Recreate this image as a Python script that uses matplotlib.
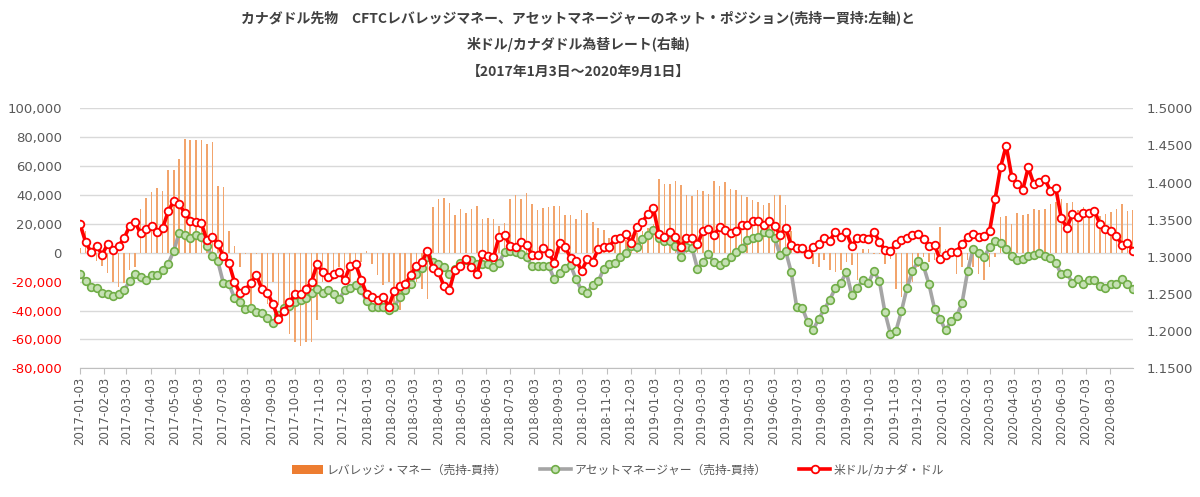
import matplotlib
matplotlib.use('Agg')
import matplotlib.pyplot as plt
import matplotlib.dates as mdates
from matplotlib.lines import Line2D
from matplotlib.patches import Patch
from matplotlib.ticker import FuncFormatter, MultipleLocator
import pandas as pd

plt.rcParams['font.family'] = ['Noto Sans CJK JP', 'DejaVu Sans']

# ---------------- data (weekly, Tuesdays from 2017-01-03) ----------------
start_date = '2017-01-03'

leveraged = [
    3000, 15000, -2000, -6000, -9000, -14000, -20000, -24000, -21000, -12000,
    -10000, 30000, 38000, 42000, 45000, 43000, 57000, 57500, 65000, 79000,
    78000, 78000, 78000, 75000, 77000, 46000, 45500, 15000, 4500, -10000,
    -700, -35500, -700, -23800, -35500, -20000, -36400, -37600, -56000, -61900,
    -64600, -61900, -61900, -46400, -20300, -16800, -19100, -10000, -12200, -20300,
    -7600, -6500, 1000, -7600, -15700, -22600, -20300, -41000, -39900, -27200,
    -24900, -20300, -24900, -32300, 31600, 37400, 37800, 34600, 25800, 30000,
    27700, 30500, 32100, 23100, 24000, 23100, 18200, 20500, 37400, 40100,
    36900, 41500, 33900, 29300, 30900, 31600, 32100, 32500, 25800, 25800,
    23500, 29800, 27500, 21200, 17100, 15500, 10400, 10800, 8000, 9000,
    12000, 14000, 15000, 17000, 20000, 50800, 47800, 47300, 49400, 46600,
    40100, 39000, 43600, 42500, 40800, 49400, 45900, 48900, 43800, 43100,
    40100, 38500, 36200, 35100, 33200, 34400, 39700, 39700, 32800, 15000,
    5000, 2000, -3000, -7600, -9900, -5300, -12200, -13400, -12200, -6500,
    -8800, -19100, 2800, 2800, -700, -1200, -7600, -4200, -24900, -30700,
    -27200, -20000, -10000, -3000, -6500, -5000, 17800, 2800, -3000, -14500,
    -9900, -5300, -9900, -14500, -19100, -9900, -3000, 25000, 25400, 20100,
    27500, 25800, 26500, 30000, 29300, 30500, 33500, 35100, 37400, 34600,
    35100, 29800, 31600, 29300, 30900, 25100, 27000, 28100, 30000, 33500,
    28600, 29300,
]

asset_mgr = [
    -14500, -19800, -23800, -24200, -27700, -28800, -30000, -28400, -25600, -19800,
    -14500, -16800, -19100, -15200, -15700, -12200, -7600, 1200, 13800, 12200,
    10200, 12000, 10800, 4600, -2500, -5800, -21000, -21500, -31100, -34400,
    -39000, -38100, -41300, -41800, -45000, -48700, -43400, -38100, -37100, -34100,
    -33000, -31100, -27900, -24900, -27700, -25800, -28800, -32100, -26100, -24200,
    -22600, -26100, -33500, -37600, -37600, -37600, -39900, -37600, -30700, -26100,
    -21500, -14500, -10600, -3000, -6500, -7600, -9900, -14500, -11100, -6900,
    -4800, -5300, -7600, -7600, -7600, -9900, -6900, 500, 1200, 500,
    -700, -3000, -9500, -9200, -9200, -9200, -18000, -14100, -10600, -8800,
    -18500, -26100, -27700, -22100, -19800, -11100, -7600, -7200, -3000, -200,
    4600, 3900, 9200, 12500, 15500, 10200, 7800, 8100, 4600, -3000,
    3900, 3500, -11100, -6500, -1200, -6500, -8800, -6500, -3000, 500,
    3200, 8500, 10400, 10800, 14300, 13600, 10200, -1800, 1200, -13400,
    -37600, -38100, -48000, -53300, -45700, -39200, -32500, -24500, -21000, -13400,
    -29100, -24500, -18700, -21000, -12700, -19600, -41100, -56100, -54200, -40400,
    -24500, -12700, -5800, -9200, -21900, -38800, -45700, -53800, -47500, -44100,
    -34600, -12900, 2800, -200, -3000, 3900, 7800, 6700, 2800, -2500,
    -4800, -4600, -2300, -1400, -200, -2500, -3500, -7200, -15000, -14100,
    -20800, -18500, -21500, -19100, -19100, -23300, -24500, -21500, -21500, -18500,
    -21900, -24900,
]

usdcad = [
    1.3443, 1.3204, 1.3061, 1.3150, 1.3029, 1.3169, 1.3097, 1.3150, 1.3250, 1.3415,
    1.3465, 1.3317, 1.3375, 1.3415, 1.3331, 1.3389, 1.3613, 1.3752, 1.3711, 1.3590,
    1.3487, 1.3465, 1.3456, 1.3227, 1.3267, 1.3177, 1.3007, 1.2921, 1.2666, 1.2518,
    1.2554, 1.2653, 1.2756, 1.2563, 1.2518, 1.2361, 1.2160, 1.2271, 1.2388, 1.2500,
    1.2500, 1.2567, 1.2666, 1.2904, 1.2792, 1.2733, 1.2769, 1.2800, 1.2689, 1.2881,
    1.2904, 1.2689, 1.2500, 1.2456, 1.2419, 1.2464, 1.2329, 1.2540, 1.2612, 1.2635,
    1.2756, 1.2881, 1.2927, 1.3083, 1.2846, 1.2800, 1.2608, 1.2554, 1.2823, 1.2881,
    1.2967, 1.2868, 1.2769, 1.3038, 1.3016, 1.2994, 1.3271, 1.3294, 1.3150, 1.3129,
    1.3204, 1.3160, 1.3025, 1.3025, 1.3115, 1.3048, 1.2921, 1.3183, 1.3137, 1.2981,
    1.2949, 1.2814, 1.2967, 1.2935, 1.3106, 1.3137, 1.3137, 1.3236, 1.3250, 1.3304,
    1.3191, 1.3406, 1.3473, 1.3573, 1.3654, 1.3304, 1.3271, 1.3330, 1.3263, 1.3137,
    1.3250, 1.3250, 1.3173, 1.3352, 1.3375, 1.3294, 1.3398, 1.3362, 1.3317, 1.3348,
    1.3429, 1.3429, 1.3480, 1.3483, 1.3429, 1.3483, 1.3415, 1.3294, 1.3393, 1.3160,
    1.3115, 1.3124, 1.3038, 1.3137, 1.3173, 1.3258, 1.3218, 1.3339, 1.3271, 1.3330,
    1.3146, 1.3250, 1.3258, 1.3236, 1.3339, 1.3204, 1.3092, 1.3079, 1.3173, 1.3227,
    1.3250, 1.3294, 1.3308, 1.3236, 1.3150, 1.3160, 1.2967, 1.3025, 1.3061, 1.3070,
    1.3173, 1.3263, 1.3304, 1.3263, 1.3285, 1.3352, 1.3779, 1.4214, 1.4497, 1.4079,
    1.3977, 1.3900, 1.4205, 1.3981, 1.4012, 1.4048, 1.3891, 1.3923, 1.3519, 1.3393,
    1.3573, 1.3532, 1.3586, 1.3594, 1.3621, 1.3442, 1.3371, 1.3352, 1.3285, 1.3160,
    1.3191, 1.3079,
]

left_ticks = list(range(-80000, 100001, 20000))
title_lines = [
    'カナダドル先物　CFTCレバレッジマネー、アセットマネージャーのネット・ポジション(売持ー買持:左軸)と',
    '米ドル/カナダドル為替レート(右軸)',
    '【2017年1月3日～2020年9月1日】',
]
legend_labels = ['レバレッジ・マネー（売持-買持）', 'アセットマネージャー（売持-買持）', '米ドル/カナダ・ドル']

dates = pd.date_range(start_date, periods=len(usdcad), freq='7D')

# ---------------- figure ----------------
W, H = 1200, 497
fig = plt.figure(figsize=(W / 100, H / 100), dpi=100)
x0, x1, y0, y1 = 80, 1133, 108.3, 368.3
ax = fig.add_axes([x0 / W, 1 - y1 / H, (x1 - x0) / W, (y1 - y0) / H])

gray_txt = '#595959'
num_font = 'DejaVu Sans'
bar_color = '#f2a46c'
ax.bar(dates, leveraged, width=2.0, color=bar_color, linewidth=0, zorder=2)
ax.plot(dates, asset_mgr, color='#a5a5a5', lw=2.6, marker='o', ms=5.5,
        mfc='#c5e0b4', mec='#70ad47', mew=1.2, zorder=3)

ax.set_ylim(-80000, 100000)
ax.set_yticks(left_ticks)
ax.set_yticklabels([f'{v:,}' for v in left_ticks])
for lab, v in zip(ax.get_yticklabels(), left_ticks):
    lab.set_color('#ff0000' if v < 0 else gray_txt)
    lab.set_family(num_font)
ax.grid(axis='y', color='#d9d9d9', lw=1)
ax.set_axisbelow(True)
ax.tick_params(axis='y', length=0, pad=13, labelsize=9.5)

ax.set_xlim(dates[0], dates[-1])
ax.xaxis.set_major_locator(mdates.MonthLocator(bymonthday=3))
ax.xaxis.set_major_formatter(mdates.DateFormatter('%Y-%m-%d'))
ax.tick_params(axis='x', length=4, color='#bfbfbf', labelcolor=gray_txt,
               labelsize=8.5, rotation=90, pad=2)
for lab in ax.get_xticklabels():
    lab.set_family(num_font)

for s in ['top', 'left', 'right']:
    ax.spines[s].set_visible(False)
ax.spines['bottom'].set_color('#bfbfbf')

ax2 = ax.twinx()
ax2.plot(dates, usdcad, color='#ff0000', lw=2.6, marker='o', ms=5.5,
         mfc='white', mec='#ff0000', mew=1.3, zorder=4)
ax2.set_ylim(1.15, 1.5)
ax2.yaxis.set_major_locator(MultipleLocator(0.05))
ax2.yaxis.set_major_formatter(FuncFormatter(lambda v, p: f'{v:.4f}'))
ax2.tick_params(axis='y', length=0, pad=10, labelsize=9.5, labelcolor=gray_txt)
for lab in ax2.get_yticklabels():
    lab.set_family(num_font)
for s in ['top', 'left', 'right', 'bottom']:
    ax2.spines[s].set_visible(False)

# title
for t, yy in zip(title_lines, [18, 45, 72]):
    fig.text(0.482, 1 - yy / H, t, ha='center', va='center', fontsize=10,
             fontweight='bold', color='#404040')

handles = [
    Patch(facecolor='#ed7d31', edgecolor='none'),
    Line2D([], [], color='#a5a5a5', lw=2.6, marker='o', ms=5.5, mfc='#c5e0b4',
           mec='#70ad47', mew=1.2),
    Line2D([], [], color='#ff0000', lw=2.6, marker='o', ms=5.5, mfc='white',
           mec='#ff0000', mew=1.3),
]
fig.legend(handles, legend_labels, loc='center', bbox_to_anchor=(0.515, 1 - 470 / H),
           ncol=3, frameon=False, fontsize=8.5, labelcolor=gray_txt,
           handlelength=2.6, columnspacing=2.8, handletextpad=0.3)

fig.savefig('out.png', dpi=100)
